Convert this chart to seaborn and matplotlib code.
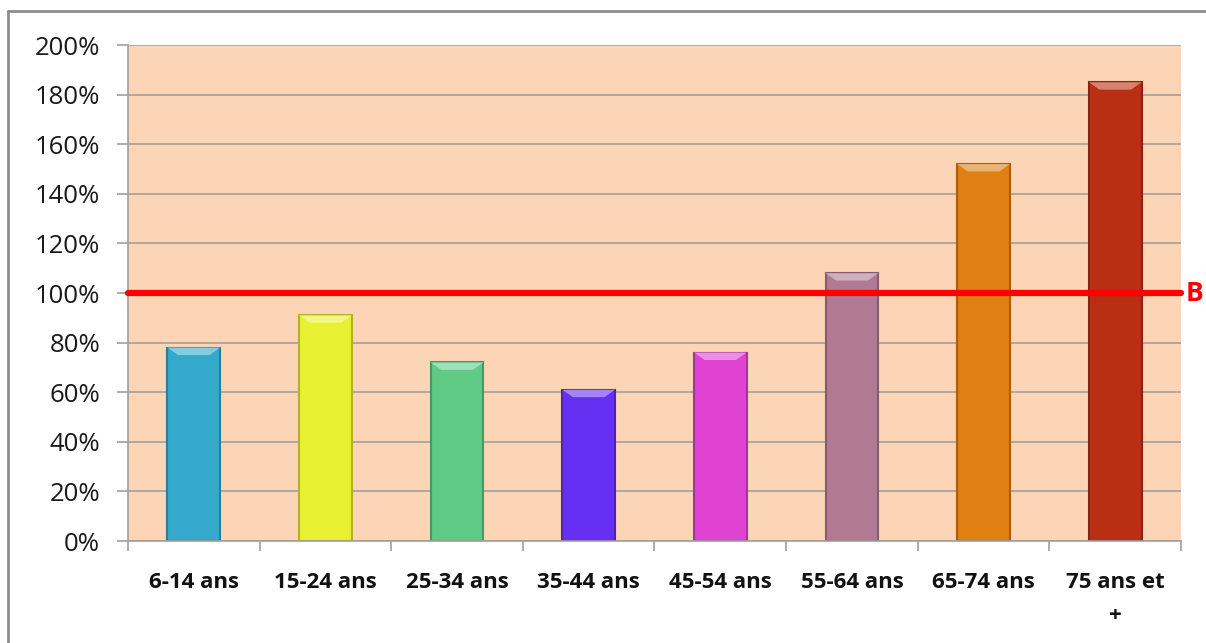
import pandas as pd
import numpy as np
import matplotlib.pyplot as plt
import seaborn as sns
from matplotlib.lines import Line2D
from matplotlib.ticker import MultipleLocator, FuncFormatter

# age groups and values (% of base 100)
ages = ['6-14 ans', '15-24 ans', '25-34 ans', '35-44 ans', '45-54 ans',
        '55-64 ans', '65-74 ans', '75 ans et\n+']
values = [78, 91, 72, 61, 76, 108, 152, 185]
bar_colors = ['#35A9CC', '#E8F032', '#5FCB85', '#6630F2', '#E043D2',
              '#B07A92', '#E07F12', '#B82F14']
base_value = 100
base_label = 'B'

sns.set_theme(style='white')
plt.rcParams['font.family'] = ['Open Sans', 'DejaVu Sans']

df = pd.DataFrame({'age': ages, 'value': values})

fig = plt.figure(figsize=(12.06, 6.43), dpi=100)
ax = fig.add_axes([0.1061, 0.1586, 0.8732, 0.7714])
ax.set_facecolor('#FBD5B5')

sns.barplot(data=df, x='age', y='value', hue='age', palette=bar_colors,
            width=0.4, legend=False, ax=ax, saturation=1)

# darker edge + lighter top bevel to mimic the 3D look
for patch, col in zip(ax.patches, bar_colors):
    rgb = np.array(plt.matplotlib.colors.to_rgb(col))
    patch.set_edgecolor(tuple(rgb * 0.75))
    patch.set_linewidth(1.5)
    x0, w, h = patch.get_x(), patch.get_width(), patch.get_height()
    light = tuple(np.minimum(rgb * 0.6 + 0.4, 1))
    ax.fill([x0, x0 + w, x0 + w * 0.8, x0 + w * 0.2],
            [h, h, h - 3, h - 3], color=light, zorder=3, lw=0)

ax.axhline(base_value, color='#FF0000', lw=4.5, zorder=4, clip_on=False)
ax.text(1.004, base_value, base_label, transform=ax.get_yaxis_transform(),
        color='#FF0000', fontsize=19, fontweight='bold', va='center',
        ha='left', clip_on=False)

ax.set_ylim(0, 200)
ax.set_xlim(-0.5, len(ages) - 0.5)
ax.yaxis.set_major_locator(MultipleLocator(20))
ax.yaxis.set_major_formatter(FuncFormatter(lambda v, p: f'{v:.0f}%'))
ax.grid(axis='y', color='#A0A0A0', lw=1.2)
ax.set_axisbelow(True)

# x ticks on category boundaries
ax.set_xticks(np.arange(-0.5, len(ages), 1), minor=False)
ax.set_xticklabels([])
ax.set_xticks(np.arange(len(ages)), minor=True)
ax.set_xticklabels(ages, minor=True, fontsize=16, fontweight='bold',
                   color='#111111', linespacing=1.75)
ax.tick_params(axis='x', which='major', length=7.5, width=1.2, color='#A0A0A0',
               direction='out', bottom=True)
ax.tick_params(axis='x', which='minor', length=0, pad=22)
ax.tick_params(axis='y', length=8, width=1.2, color='#A0A0A0', left=True,
               labelsize=18.5, labelcolor='#1A1A1A', pad=12)

for side in ['top', 'right']:
    ax.spines[side].set_visible(False)
for side in ['left', 'bottom']:
    ax.spines[side].set_color('#A0A0A0')
    ax.spines[side].set_linewidth(1.2)

ax.set_xlabel('')
ax.set_ylabel('')

# outer frame of the chart area
fig.add_artist(Line2D([8 / 1206, 8 / 1206], [0, 1 - 11 / 643],
                      transform=fig.transFigure, color='#8C8C8C', lw=2))
fig.add_artist(Line2D([8 / 1206, 1], [1 - 11 / 643, 1 - 11 / 643],
                      transform=fig.transFigure, color='#8C8C8C', lw=2))

fig.savefig('out.png', dpi=100)
